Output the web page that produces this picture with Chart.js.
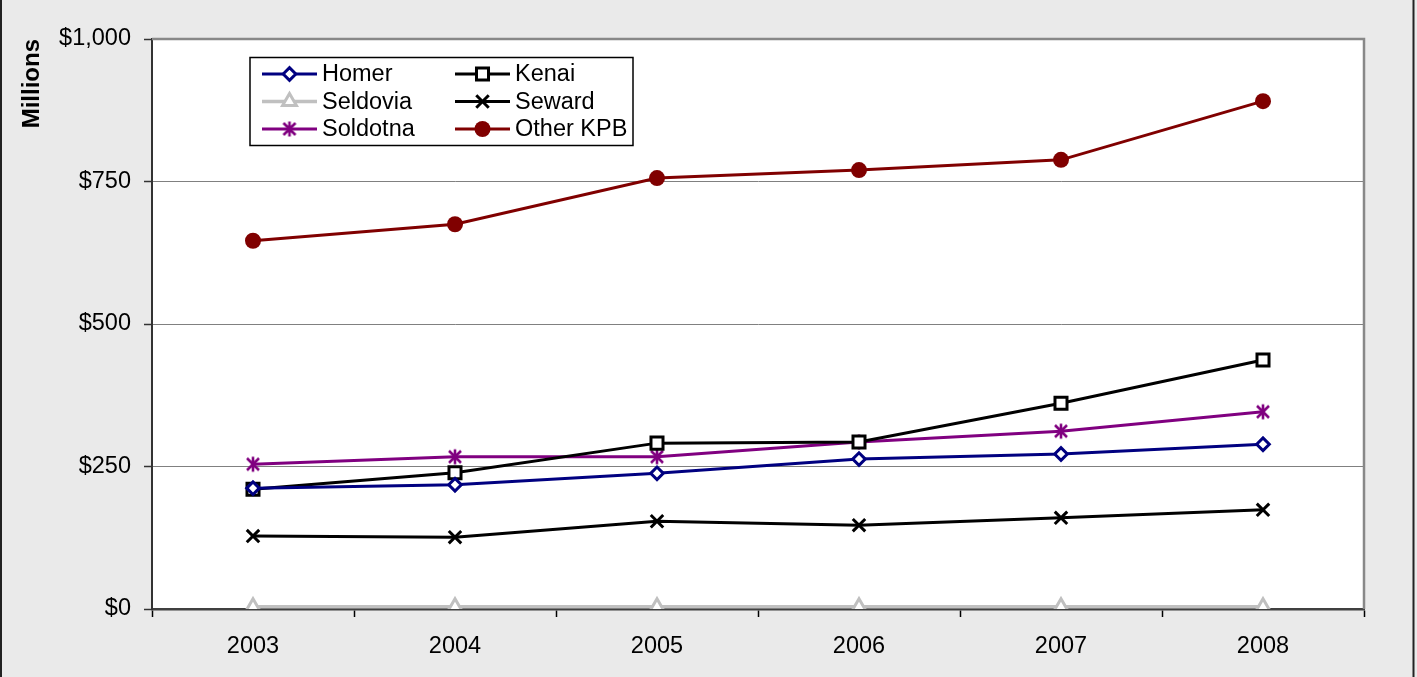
<!DOCTYPE html>
<html>
<head>
<meta charset="utf-8">
<script src="https://cdn.jsdelivr.net/npm/chart.js@4/dist/chart.umd.min.js"></script>
<style>
  html, body { margin: 0; padding: 0; background: #eaeaea; }
  #wrap { width: 1417px; height: 677px; position: relative; }
  canvas { display: block; }
</style>
</head>
<body>
<div id="wrap"><canvas id="c" width="1417" height="677"></canvas></div>
<script>
const years = ['2003', '2004', '2005', '2006', '2007', '2008'];
const homer    = [212, 218, 238, 263, 272, 289];
const kenai    = [210, 239, 291, 293, 361, 437];
const seldovia = [4, 4, 4, 4, 4, 4];
const seward   = [128, 126, 154, 147, 160, 174];
const soldotna = [254, 267, 267, 293, 312, 346];
const otherKPB = [646, 675, 756, 770, 788, 891];
const yTicks = [0, 250, 500, 750, 1000];

const FONT = 'Arial, "Liberation Sans", sans-serif';

// asterisk marker (Excel-style star: X plus vertical bar)
function makeAsterisk(color) {
  const c = document.createElement('canvas');
  c.width = 20; c.height = 20;
  const g = c.getContext('2d');
  g.strokeStyle = color; g.lineWidth = 2.6; g.lineCap = 'butt';
  g.beginPath();
  g.moveTo(10 - 6, 10 - 6); g.lineTo(10 + 6, 10 + 6);
  g.moveTo(10 + 6, 10 - 6); g.lineTo(10 - 6, 10 + 6);
  g.moveTo(10, 10 - 7.5); g.lineTo(10, 10 + 7.5);
  g.stroke();
  return c;
}
const asterisk = makeAsterisk('#800080');

const series = [
  { label: 'Homer', data: homer, color: '#000080', style: 'rectRot', r: 6.3, fill: '#ffffff', lw: 3, bw: 3 },
  { label: 'Kenai', data: kenai, color: '#000000', style: 'rect', r: 8.5, fill: '#ffffff', lw: 3, bw: 3 },
  { label: 'Seldovia', data: seldovia, color: '#c0c0c0', style: 'triangle', r: 8, fill: '#ffffff', lw: 3.5, bw: 3 },
  { label: 'Seward', data: seward, color: '#000000', style: 'crossRot', r: 8.8, fill: '#000000', lw: 3, bw: 3 },
  { label: 'Soldotna', data: soldotna, color: '#800080', style: asterisk, r: 8, fill: '#800080', lw: 3, bw: 2.5 },
  { label: 'Other KPB', data: otherKPB, color: '#800000', style: 'circle', r: 8, fill: '#800000', lw: 3, bw: 0 }
];

const datasets = series.map(s => ({
  label: s.label,
  data: s.data,
  borderColor: s.color,
  backgroundColor: s.fill,
  borderWidth: s.lw,
  pointStyle: s.style,
  pointRadius: s.r,
  pointHoverRadius: s.r,
  pointBackgroundColor: s.fill,
  pointBorderColor: s.color,
  pointBorderWidth: s.bw,
  tension: 0,
  fill: false
}));

function drawMarker(ctx, s, x, y) {
  ctx.save();
  ctx.strokeStyle = s.color;
  ctx.fillStyle = s.fill;
  ctx.lineWidth = s.bw;
  const r = s.r;
  ctx.beginPath();
  if (s.style === 'rectRot') {
    ctx.moveTo(x - r, y); ctx.lineTo(x, y - r); ctx.lineTo(x + r, y); ctx.lineTo(x, y + r); ctx.closePath();
    ctx.fill(); ctx.stroke();
  } else if (s.style === 'rect') {
    const h = r * Math.SQRT1_2;
    ctx.rect(x - h, y - h, 2 * h, 2 * h); ctx.fill(); ctx.stroke();
  } else if (s.style === 'triangle') {
    ctx.moveTo(x, y - r);
    ctx.lineTo(x + Math.cos(Math.PI / 6) * r, y + Math.sin(Math.PI / 6) * r);
    ctx.lineTo(x - Math.cos(Math.PI / 6) * r, y + Math.sin(Math.PI / 6) * r);
    ctx.closePath(); ctx.fill(); ctx.stroke();
  } else if (s.style === 'crossRot') {
    const h = r * Math.SQRT1_2;
    ctx.moveTo(x - h, y - h); ctx.lineTo(x + h, y + h);
    ctx.moveTo(x + h, y - h); ctx.lineTo(x - h, y + h);
    ctx.stroke();
  } else if (s.style === 'circle') {
    ctx.arc(x, y, r, 0, Math.PI * 2); ctx.fill();
  } else {
    ctx.drawImage(s.style, x - s.style.width / 2, y - s.style.height / 2);
  }
  ctx.restore();
}

const framePlugin = {
  id: 'frame',
  beforeDraw(chart) {
    const { ctx, chartArea: a } = chart;
    ctx.save();
    ctx.fillStyle = '#eaeaea';
    ctx.fillRect(0, 0, chart.width, chart.height);
    ctx.fillStyle = '#ffffff';
    ctx.fillRect(a.left, a.top, a.right - a.left, a.bottom - a.top);
    ctx.strokeStyle = '#222222';
    ctx.lineWidth = 2;
    ctx.beginPath();
    ctx.moveTo(1, 0); ctx.lineTo(1, chart.height);
    ctx.moveTo(1413.5, 0); ctx.lineTo(1413.5, chart.height);
    ctx.stroke();
    ctx.restore();
  },
  beforeDatasetsDraw(chart) {
    const { ctx, chartArea: a } = chart;
    ctx.save();
    ctx.strokeStyle = '#888888';
    ctx.lineWidth = 2.5;
    ctx.beginPath();
    ctx.moveTo(a.left, a.top); ctx.lineTo(a.right, a.top); ctx.lineTo(a.right, a.bottom);
    ctx.stroke();
    ctx.restore();
  },
  afterDraw(chart) {
    const ctx = chart.ctx;
    // legend box
    const bx = 250, by = 57.5, bw = 383, bh = 88;
    ctx.save();
    ctx.fillStyle = '#ffffff';
    ctx.fillRect(bx, by, bw, bh);
    ctx.strokeStyle = '#000000';
    ctx.lineWidth = 1.5;
    ctx.strokeRect(bx, by, bw, bh);
    const cols = [262, 455];
    const rows = [74, 101.5, 129];
    ctx.font = '23.5px ' + FONT;
    ctx.textBaseline = 'middle';
    ctx.textAlign = 'left';
    series.forEach((s, i) => {
      const cx = cols[i % 2], cy = rows[Math.floor(i / 2)];
      ctx.strokeStyle = s.color;
      ctx.lineWidth = s.lw;
      ctx.beginPath();
      ctx.moveTo(cx, cy); ctx.lineTo(cx + 55, cy);
      ctx.stroke();
      drawMarker(ctx, s, cx + 27.5, cy);
      ctx.fillStyle = '#000000';
      ctx.fillText(s.label, cx + 60, cy + 1);
    });
    ctx.restore();
  }
};

new Chart(document.getElementById('c'), {
  type: 'line',
  data: { labels: years, datasets },
  options: {
    responsive: false,
    animation: false,
    events: [],
    layout: { padding: { top: 39, right: 53, left: 0, bottom: 0 } },
    plugins: { legend: { display: false }, tooltip: { enabled: false } },
    scales: {
      x: {
        offset: true,
        afterFit(scale) { scale.height = 68; },
        grid: {
          offset: true,
          drawOnChartArea: false,
          drawTicks: true,
          tickLength: 8,
          tickColor: '#000000',
          tickWidth: 1.5
        },
        border: { color: '#404040', width: 2.5 },
        ticks: {
          color: '#000000',
          padding: 15,
          maxRotation: 0,
          font: { family: FONT, size: 23.5 }
        }
      },
      y: {
        min: 0,
        max: 1000,
        afterFit(scale) { scale.width = 152; },
        afterBuildTicks(scale) { scale.ticks = yTicks.map(v => ({ value: v })); },
        grid: {
          color: '#808080',
          lineWidth: 1,
          tickLength: 8,
          tickColor: '#333333',
          tickWidth: 1.5
        },
        border: { color: '#333333', width: 2 },
        ticks: {
          color: '#000000',
          padding: 13,
          font: { family: FONT, size: 23.5 },
          callback: v => '$' + String(v).replace(/\B(?=(\d{3})+(?!\d))/g, ',')
        },
        title: {
          display: true,
          text: 'Millions',
          align: 'end',
          color: '#000000',
          padding: { top: 18, bottom: 0 },
          font: { family: FONT, size: 24, weight: 'bold' }
        }
      }
    }
  },
  plugins: [framePlugin]
});
</script>
</body>
</html>
